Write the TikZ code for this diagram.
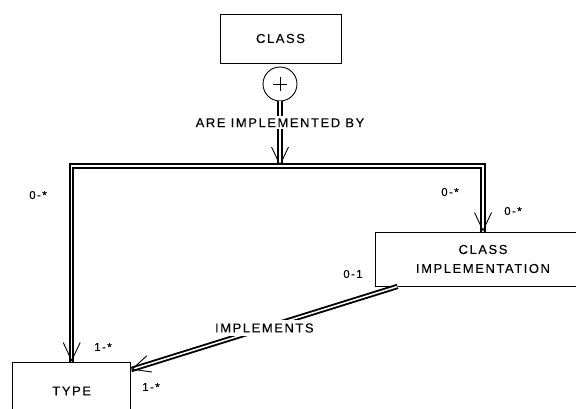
\documentclass[tikz,border=0pt]{standalone}
\usepackage{fontspec}
\setmainfont{Liberation Sans}[LetterSpace=12, FakeBold=0.2]
\usetikzlibrary{arrows.meta, decorations.markings}

\tikzset{
  entity/.style={draw, line width=0.9pt, font=\fontsize{13}{19}\selectfont, align=center},
  rel/.style={double, line width=1.9pt, double distance=1.5pt},
  barb/.style={postaction={decorate, decoration={markings,
    mark=at position 1 with {\arrow[line width=0.9pt]{Straight Barb[length=18pt, width=17pt]}}}}},
  card/.style={font=\fontsize{11.5}{13}\selectfont},
  rellabel/.style={fill=white, font=\fontsize{13}{15}\selectfont},
}

\begin{document}
\begin{tikzpicture}[x=1pt, y=-1pt]
    \useasboundingbox (0,0) rectangle (576,408);
    \clip (0,0) rectangle (576,408);

    % --- entities (box centres in picture units) ---
    \node[entity, minimum width=121pt, minimum height=49pt] (class) at (280.5,38.5) {CLASS};
    \node[entity, minimum width=216pt, minimum height=54pt] (climpl) at (483,259)
      {CLASS\\IMPLEMENTATION};
    \node[entity, minimum width=118pt, minimum height=58pt] (type) at (71.7,391) {TYPE};

    % --- subtype circle under CLASS, with its plus sign ---
    \node[draw, circle, line width=0.9pt, minimum size=34pt, inner sep=0pt] (plus) at (280,84) {};
    \draw[line width=0.9pt] ([xshift=-7pt]plus.center) -- ([xshift=7pt]plus.center)
      ([yshift=-7pt]plus.center) -- ([yshift=7pt]plus.center);
    \coordinate (junc) at (280,166);

    % --- relationships ---
    \draw[rel, barb] (plus) -- (junc)
      node[rellabel, pos=0.33, inner sep=2pt] {ARE IMPLEMENTED BY};
    \draw[rel, barb] (junc) -| (type);
    \draw[rel, barb] (junc) -| (climpl);
    \draw[rel, barb] ([xshift=23pt]climpl.south west) -- ([yshift=-8pt]type.north east)
      node[rellabel, midway, inner sep=3pt] {IMPLEMENTS};

    % --- cardinalities ---
    \foreach \x/\y/\c in {38/195/0-*, 103/347/1-*, 151/387/1-*,
      450/192/0-*, 513/211/0-*, 353/274/0-1}{
      \node[card] (c\x) at (\x,\y) {\c};
    }
\end{tikzpicture}
\end{document}
